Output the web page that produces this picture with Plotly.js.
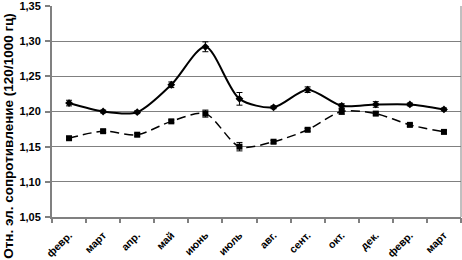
<!DOCTYPE html>
<html>
<head>
<meta charset="utf-8">
<script src="https://cdn.plot.ly/plotly-3.0.1.min.js"></script>
<style>html,body{margin:0;padding:0;background:#fff;}#chart{width:462px;height:260px;}</style>
</head>
<body>
<div id="chart"></div>
<script>
var months = ["февр.", "март", "апр.", "май", "июнь", "июль", "авг.", "сент.", "окт.", "дек.", "февр.", "март"];
var solidValues = [1.212, 1.200, 1.199, 1.238, 1.292, 1.218, 1.206, 1.231, 1.208, 1.210, 1.210, 1.203];
var solidErrors = [0.004, 0.002, 0.002, 0.004, 0.007, 0.009, 0.002, 0.004, 0.003, 0.004, 0.002, 0.002];
var dashedValues = [1.162, 1.172, 1.167, 1.186, 1.197, 1.150, 1.157, 1.174, 1.200, 1.197, 1.181, 1.171];
var dashedErrors = [0.002, 0.002, 0.002, 0.002, 0.005, 0.006, 0.002, 0.002, 0.004, 0.002, 0.002, 0.002];
var yTicks = [1.05, 1.10, 1.15, 1.20, 1.25, 1.30, 1.35];
var yTitle = "Отн. эл. сопротивление (120/1000 гц)";

var xs = months.map(function(_, i){ return i; });
var bounds = [];
for (var i = 0; i <= months.length; i++) bounds.push(i - 0.5);

var traces = [
  {
    x: xs, y: dashedValues, type: 'scatter', mode: 'lines+markers',
    line: {color: '#000', width: 1.5, dash: '9px,5px', shape: 'spline', smoothing: 0.8},
    marker: {symbol: 'square', size: 6, color: '#000'},
    error_y: {type: 'data', array: dashedErrors, visible: true, color: '#000', thickness: 1, width: 3},
    hoverinfo: 'skip'
  },
  {
    x: xs, y: solidValues, type: 'scatter', mode: 'lines+markers',
    line: {color: '#000', width: 2, shape: 'spline', smoothing: 0.8},
    marker: {symbol: 'diamond', size: 6, color: '#000'},
    error_y: {type: 'data', array: solidErrors, visible: true, color: '#000', thickness: 1, width: 3},
    hoverinfo: 'skip'
  },
  {
    x: [bounds[0]], y: [1.2], xaxis: 'x2', type: 'scatter', mode: 'markers',
    marker: {opacity: 0}, hoverinfo: 'skip', showlegend: false
  }
];

var fam = 'Liberation Sans, Arial, sans-serif';

var layout = {
  width: 462, height: 260,
  margin: {l: 52, r: 1, t: 6, b: 43, pad: 0},
  paper_bgcolor: '#fff', plot_bgcolor: '#fff',
  showlegend: false,
  separators: ', ',
  font: {family: fam, size: 11, color: '#000'},
  xaxis: {
    range: [-0.5, 11.5], tickmode: 'array', tickvals: xs, ticktext: months,
    ticks: '', tickangle: -45, showgrid: false, zeroline: false,
    showline: true, linecolor: '#808080', linewidth: 2, mirror: false,
    tickfont: {family: fam, size: 10.5, color: '#000', weight: 'bold'},
    ticklabelstandoff: 6, ticklabeloverflow: 'allow', fixedrange: true
  },
  xaxis2: {
    overlaying: 'x', range: [-0.5, 11.5], tickmode: 'array', tickvals: bounds,
    ticks: 'outside', ticklen: 5, tickcolor: '#808080', tickwidth: 2,
    showticklabels: false, showgrid: false, zeroline: false, showline: false, side: 'bottom'
  },
  yaxis: {
    range: [1.05, 1.35], tickmode: 'array', tickvals: yTicks, tickformat: '.2f',
    ticks: 'outside', ticklen: 5, tickcolor: '#808080', tickwidth: 2,
    showgrid: true, gridcolor: '#808080', gridwidth: 1, zeroline: false,
    showline: true, linecolor: '#808080', linewidth: 2,
    tickfont: {family: fam, size: 11, color: '#000', weight: 'bold'},
    ticklabeloverflow: 'allow', ticklabelstandoff: 2,
    fixedrange: true
  },
  shapes: [
    {type: 'line', xref: 'paper', yref: 'paper', x0: 1, x1: 1, y0: 0, y1: 1, line: {color: '#808080', width: 1}}
  ],
  annotations: [
    {text: yTitle, xref: 'paper', yref: 'paper', x: -0.105, y: 0.385, xanchor: 'center', yanchor: 'middle',
     textangle: -90, showarrow: false,
     font: {family: fam, size: 13.5, color: '#000', weight: 'bold'}}
  ]
};

Plotly.newPlot('chart', traces, layout, {displayModeBar: false, staticPlot: true});
</script>
</body>
</html>
